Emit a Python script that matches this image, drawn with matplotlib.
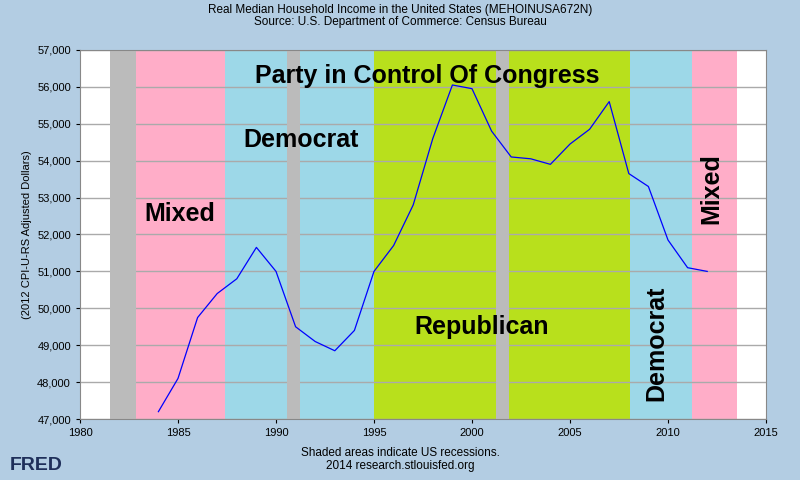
import matplotlib
matplotlib.use("Agg")
import matplotlib.pyplot as plt
plt.rcParams['font.family'] = ['Liberation Sans', 'DejaVu Sans']

years = [1984,1985,1986,1987,1988,1989,1990,1991,1992,1993,1994,1995,1996,1997,1998,1999,2000,2001,2002,2003,2004,2005,2006,2007,2008,2009,2010,2011,2012]
income = [47200,48100,49750,50400,50800,51650,51000,49500,49100,48850,49400,51000,51700,52800,54600,56050,55950,54800,54100,54050,53900,54450,54850,55600,53650,53300,51850,51100,51000]
recessions = [(1981.55,1982.85),(1990.55,1991.2),(2001.2,2001.9)]
parties = [(1982.85,1987.4,'#ffadc8'),(1987.4,1995.0,'#9dd8e8'),(1995.0,2008.05,'#b8e01c'),(2008.05,2011.2,'#9dd8e8'),(2011.2,2013.5,'#ffadc8')]

fig = plt.figure(figsize=(8,4.8), dpi=100)
fig.patch.set_facecolor('#b3cde3')
ax = fig.add_axes([0.1, 0.127, 0.8575, 0.769])
ax.set_xlim(1980,2015); ax.set_ylim(47000,57000)
ax.set_yticks(range(47000,57001,1000))
ax.set_yticklabels([f"{v:,}" for v in range(47000,57001,1000)], fontsize=8)
ax.set_xticks(range(1980,2016,5))
ax.tick_params(labelsize=8, length=3)
ax.grid(axis='y', color='#aaaaaa', lw=1, zorder=0)
for a,b,c in parties:
    ax.axvspan(a,b,color=c,zorder=1.5,lw=0)
for a,b in recessions:
    ax.axvspan(a,b,color='#bbbbbb',zorder=2,lw=0)
ax.plot(years, income, color='#0000ff', lw=0.9, zorder=3)
ax.set_ylabel('(2012 CPI-U-RS Adjusted Dollars)', fontsize=8)
for s in ax.spines.values(): s.set_color('#888888')

kw = dict(fontsize=18, fontweight='bold', ha='center', va='center', zorder=4)
ax.text(1997.7,56300,'Party in Control Of Congress',**kw)
ax.text(1985.1,52550,'Mixed',**kw)
ax.text(1991.3,54550,'Democrat',**kw)
ax.text(2000.5,49500,'Republican',**kw)
ax.text(2009.4,49050,'Democrat',rotation=90,**kw)
ax.text(2012.2,53250,'Mixed',rotation=90,**kw)

fig.text(0.5,0.98,'Real Median Household Income in the United States (MEHOINUSA672N)',ha='center',va='center',fontsize=8.5)
fig.text(0.5,0.955,'Source: U.S. Department of Commerce: Census Bureau',ha='center',va='center',fontsize=8.5)
fig.text(0.5,0.057,'Shaded areas indicate US recessions.',ha='center',va='center',fontsize=8.5)
fig.text(0.5,0.03,'2014 research.stlouisfed.org',ha='center',va='center',fontsize=8.5)
fig.text(0.012,0.03,'FRED',fontsize=14,fontweight='bold',color='#1f2f5a',va='center')
fig.savefig('out.png', dpi=100, facecolor=fig.get_facecolor())
